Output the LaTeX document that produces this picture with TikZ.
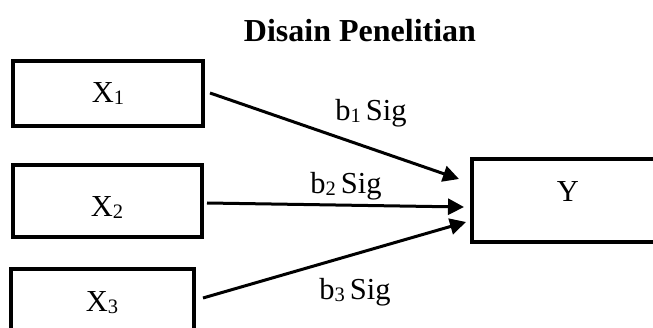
\documentclass[tikz,border=0pt]{standalone}
\usepackage{fontspec}
\setmainfont{Liberation Serif}
\usetikzlibrary{arrows.meta}
\newcommand\lowsub[1]{\raisebox{-2pt}{\fontsize{20.5}{24}\selectfont #1}}
\begin{document}
\begin{tikzpicture}[x=1pt,y=-1pt,
  box/.style={draw, line width=3.2pt, inner sep=0pt},
  lbl/.style={anchor=base, inner sep=0pt, font=\fontsize{30.5}{36}\selectfont},
  arr/.style={line width=3pt, -{Triangle[length=16pt,width=16pt]}}]
\useasboundingbox (0,0) rectangle (653,328);

% title
\node[lbl, font=\fontsize{32}{38}\selectfont\bfseries] (title) at (360,42) {Disain Penelitian};

% boxes
\node[box, minimum width=190pt, minimum height=65pt] (bx1) at (108,93.5) {};
\node[box, minimum width=189pt, minimum height=72pt] (bx2) at (107.5,201) {};
\node[box, minimum width=183pt, minimum height=82pt] (bx3) at (102.5,310) {};
\node[box, minimum width=192pt, minimum height=83pt] (by) at (568,200.5) {};

% box texts
\node[lbl] (tx1) at (108,103) {X\lowsub{1}};
\node[lbl] (tx2) at (107,217) {X\lowsub{2}};
\node[lbl] (tx3) at (102,312) {X\lowsub{3}};
\node[lbl] (ty) at (568,202) {Y};

% arrow ends
\coordinate (s1) at (210,93);
\coordinate (s2) at (207,203);
\coordinate (s3) at (203,298);
\coordinate (t1) at (459,179);
\coordinate (t2) at (464,207);
\coordinate (t3) at (466,222);

\draw[arr] (s1) -- (t1);
\draw[arr] (s2) -- (t2);
\draw[arr] (s3) -- (t3);

% path labels
\node[lbl] (l1) at (371,121) {b\lowsub{1}\,Sig};
\node[lbl] (l2) at (346,194) {b\lowsub{2}\,Sig};
\node[lbl] (l3) at (355,300) {b\lowsub{3}\,Sig};
\end{tikzpicture}
\end{document}
